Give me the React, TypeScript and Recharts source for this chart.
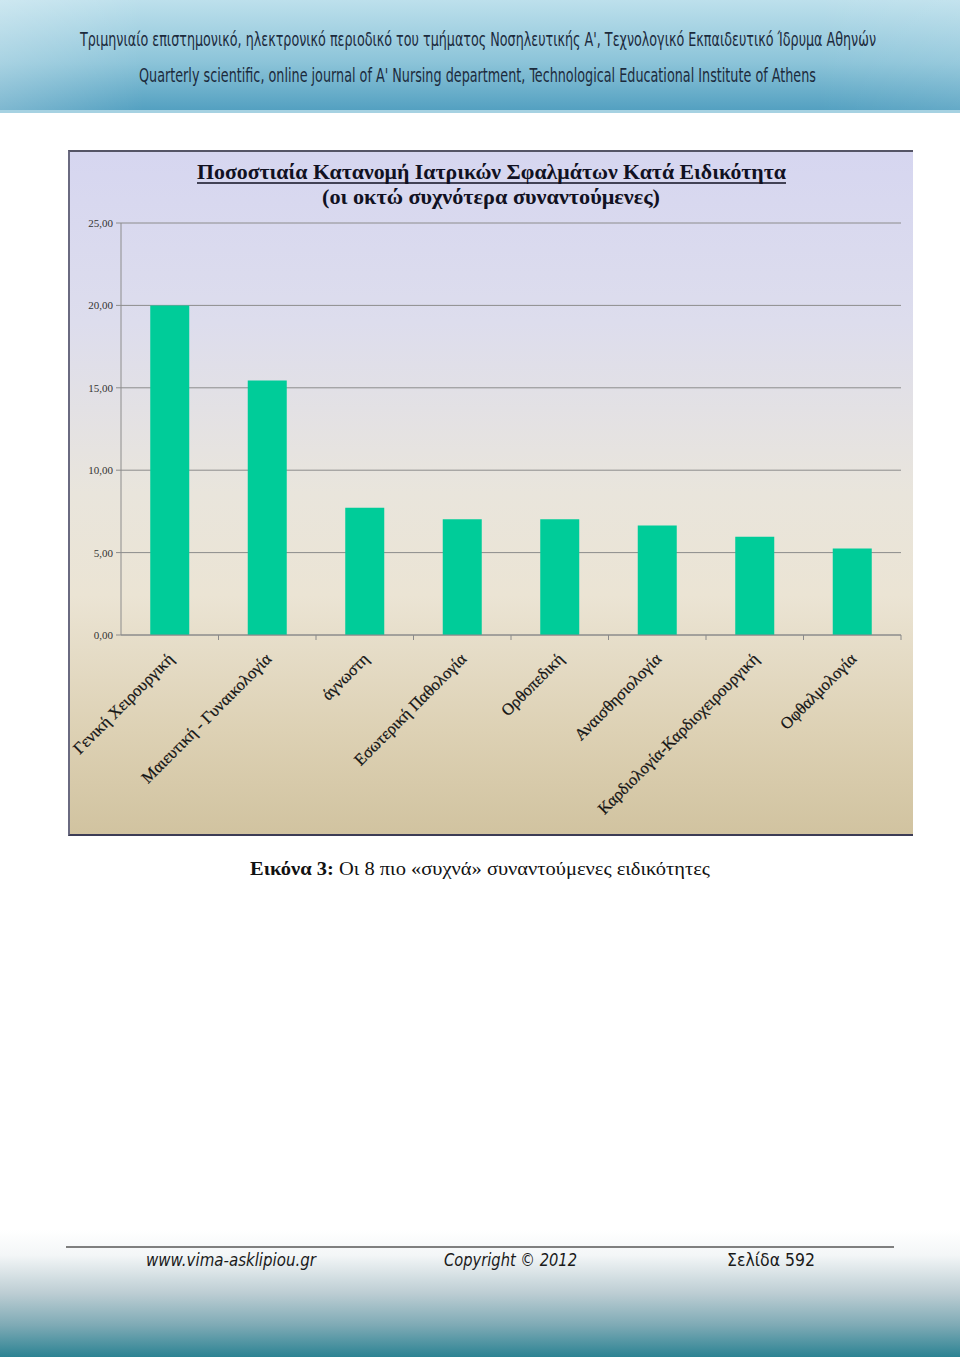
import React from "react";
import { BarChart, Bar, XAxis, YAxis, CartesianGrid } from "recharts";

const categories = [
  "Γενική Χειρουργική",
  "Μαιευτική - Γυναικολογία",
  "άγνωστη",
  "Εσωτερική Παθολογία",
  "Ορθοπεδική",
  "Αναισθησιολογία",
  "Καρδιολογία-Καρδιοχειρουργική",
  "Οφθαλμολογία",
];
const percentages = [20.0, 15.45, 7.72, 7.03, 7.03, 6.65, 5.96, 5.25];
const yTicks = [0, 5, 10, 15, 20, 25];

const chartTitle = "Ποσοστιαία Κατανομή Ιατρικών Σφαλμάτων Κατά Ειδικότητα";
const chartSubtitle = "(οι οκτώ συχνότερα συναντούμενες)";
const headerLine1 =
  "Τριμηνιαίο επιστημονικό, ηλεκτρονικό περιοδικό του τμήματος Νοσηλευτικής Α', Τεχνολογικό Εκπαιδευτικό Ίδρυμα Αθηνών";
const headerLine2 =
  "Quarterly scientific, online journal of A' Nursing department, Technological Educational Institute of Athens";
const captionBold = "Εικόνα 3:";
const captionText = " Οι 8 πιο «συχνά» συναντούμενες ειδικότητες";
const footerLeft = "www.vima-asklipiou.gr";
const footerMid = "Copyright © 2012";
const footerRight = "Σελίδα  592";

const data = categories.map((name, i) => ({ name, value: percentages[i] }));

const CHART_W = 845;
const CHART_H = 686;
const Y_AXIS_W = 53;
const MARGIN_R = 12;
const BAND = (CHART_W - Y_AXIS_W - MARGIN_R) / categories.length;
const SX = 0.8;

const fmt = (v: number) => v.toFixed(2).replace(".", ",");

const XTick = (props: any) => {
  const { x, y, payload } = props;
  const ax = x + 5;
  const ay = y + 25;
  return (
    <g>
      <line x1={x + BAND / 2} y1={y} x2={x + BAND / 2} y2={y + 5} stroke="#8a8a8a" />
      <text
        x={ax}
        y={ay}
        transform={`rotate(-45, ${ax}, ${ay})`}
        textAnchor="end"
        fontFamily="'Liberation Serif', 'Times New Roman', serif"
        fontSize={16.5}
        fill="#141414"
        stroke="#141414"
        strokeWidth={0.25}
      >
        {payload.value}
      </text>
    </g>
  );
};

const HeaderText = ({ x, y, len, children }: any) => (
  <g transform={`translate(${x}, ${y}) scale(${SX}, 1)`}>
    <text
      x={0}
      y={0}
      textLength={len / SX}
      lengthAdjust="spacingAndGlyphs"
      fontFamily="'Liberation Sans Narrow', 'DejaVu Sans Condensed', sans-serif"
      fontSize={19}
      fill="#1c2b3d"
    >
      {children}
    </text>
  </g>
);

export default function App() {
  return (
    <div
      style={{
        position: "absolute",
        left: 0,
        top: 0,
        width: 960,
        height: 1357,
        background: "#ffffff",
        overflow: "hidden",
      }}
    >
      {/* header */}
      <svg width={960} height={113} style={{ position: "absolute", left: 0, top: 0 }}>
        <defs>
          <linearGradient id="hdr" x1="0" y1="0" x2="0" y2="1">
            <stop offset="0%" stopColor="#bde0ec" />
            <stop offset="55%" stopColor="#8cc4d9" />
            <stop offset="100%" stopColor="#509ebf" />
          </linearGradient>
          <linearGradient id="hdr2" x1="0" y1="0" x2="1" y2="0">
            <stop offset="0%" stopColor="#ffffff" stopOpacity={0.25} />
            <stop offset="15%" stopColor="#ffffff" stopOpacity={0} />
            <stop offset="85%" stopColor="#ffffff" stopOpacity={0} />
            <stop offset="100%" stopColor="#ffffff" stopOpacity={0.1} />
          </linearGradient>
        </defs>
        <rect x={0} y={0} width={960} height={113} fill="url(#hdr)" />
        <rect x={0} y={0} width={960} height={113} fill="url(#hdr2)" />
        <rect x={0} y={110} width={960} height={3} fill="#a6d2e2" />
        <HeaderText x={80} y={46} len={796}>
          {headerLine1}
        </HeaderText>
        <HeaderText x={139} y={82} len={677}>
          {headerLine2}
        </HeaderText>
      </svg>

      {/* chart panel */}
      <div
        style={{
          position: "absolute",
          left: 68,
          top: 150,
          width: CHART_W,
          height: CHART_H,
          boxSizing: "border-box",
          borderTop: "2px solid #555566",
          borderLeft: "2px solid #6a6a80",
          borderBottom: "2px solid #3c3c55",
          background:
            "linear-gradient(to bottom, #d6d6f0 0%, #dddded 25%, #e9e5dc 50%, #ebe4d4 65%, #ddd1b4 85%, #d1c3a0 100%)",
        }}
      >
        <div style={{ position: "absolute", left: -2, top: -2 }}>
          <BarChart
            width={CHART_W}
            height={CHART_H}
            data={data}
            margin={{ top: 73, right: MARGIN_R, bottom: 0, left: 0 }}
            barCategoryGap="30%"
          >
            <CartesianGrid vertical={false} stroke="#8c8c8c" strokeWidth={1} />
            <XAxis
              dataKey="name"
              height={201}
              interval={0}
              tickLine={false}
              tickSize={0}
              tickMargin={0}
              axisLine={{ stroke: "#8c8c8c" }}
              tick={<XTick />}
            />
            <YAxis
              width={Y_AXIS_W}
              domain={[0, 25]}
              ticks={yTicks}
              tickFormatter={fmt}
              tickSize={5}
              tickMargin={3}
              axisLine={{ stroke: "#8c8c8c" }}
              tickLine={{ stroke: "#8c8c8c" }}
              tick={{
                fontFamily: "'Liberation Serif', 'Times New Roman', serif",
                fontSize: 11,
                fill: "#333333",
              }}
            />
            <Bar dataKey="value" fill="#00cc99" isAnimationActive={false} />
          </BarChart>
        </div>
        <svg
          width={CHART_W}
          height={70}
          style={{ position: "absolute", left: -2, top: -2, pointerEvents: "none" }}
        >
          <text
            x={197 - 68}
            y={179 - 150}
            textLength={589}
            lengthAdjust="spacingAndGlyphs"
            fontFamily="'Liberation Serif', 'Times New Roman', serif"
            fontWeight="bold"
            fontSize={21}
            fill="#111122"
          >
            {chartTitle}
          </text>
          <line x1={197 - 68} y1={183 - 150} x2={786 - 68} y2={183 - 150} stroke="#111122" strokeWidth={1.3} />
          <text
            x={322 - 68}
            y={204 - 150}
            textLength={338}
            lengthAdjust="spacingAndGlyphs"
            fontFamily="'Liberation Serif', 'Times New Roman', serif"
            fontWeight="bold"
            fontSize={21}
            fill="#111122"
          >
            {chartSubtitle}
          </text>
        </svg>
      </div>

      {/* caption */}
      <svg width={960} height={40} style={{ position: "absolute", left: 0, top: 850 }}>
        <text
          x={250}
          y={25}
          textLength={460}
          lengthAdjust="spacingAndGlyphs"
          fontFamily="'Liberation Serif', 'DejaVu Serif', serif"
          fontSize={19}
          fill="#111111"
        >
          <tspan fontWeight="bold">{captionBold}</tspan>
          <tspan>{captionText}</tspan>
        </text>
      </svg>

      {/* footer */}
      <svg width={960} height={127} style={{ position: "absolute", left: 0, top: 1230 }}>
        <defs>
          <linearGradient id="ftr" x1="0" y1="0" x2="0" y2="1">
            <stop offset="0%" stopColor="#ffffff" />
            <stop offset="20%" stopColor="#f3f6f7" />
            <stop offset="50%" stopColor="#bccdd3" />
            <stop offset="75%" stopColor="#7eaab5" />
            <stop offset="100%" stopColor="#2c8393" />
          </linearGradient>
        </defs>
        <rect x={0} y={0} width={960} height={127} fill="url(#ftr)" />
        <line x1={66} y1={17} x2={894} y2={17} stroke="#7f7f7f" strokeWidth={2} />
        <text
          x={146}
          y={36}
          textLength={170}
          lengthAdjust="spacingAndGlyphs"
          fontFamily="'Liberation Sans Narrow', 'DejaVu Sans Condensed', sans-serif"
          fontStyle="italic"
          fontSize={17}
          fill="#1a1a1a"
        >
          {footerLeft}
        </text>
        <text
          x={444}
          y={36}
          textLength={133}
          lengthAdjust="spacingAndGlyphs"
          fontFamily="'Liberation Sans Narrow', 'DejaVu Sans Condensed', sans-serif"
          fontStyle="italic"
          fontSize={17}
          fill="#1a1a1a"
        >
          {footerMid}
        </text>
        <text
          x={727}
          y={36}
          textLength={88}
          lengthAdjust="spacingAndGlyphs"
          fontFamily="'Liberation Sans Narrow', 'DejaVu Sans Condensed', sans-serif"
          fontSize={17}
          fill="#1a1a1a"
        >
          {footerRight}
        </text>
      </svg>
    </div>
  );
}
